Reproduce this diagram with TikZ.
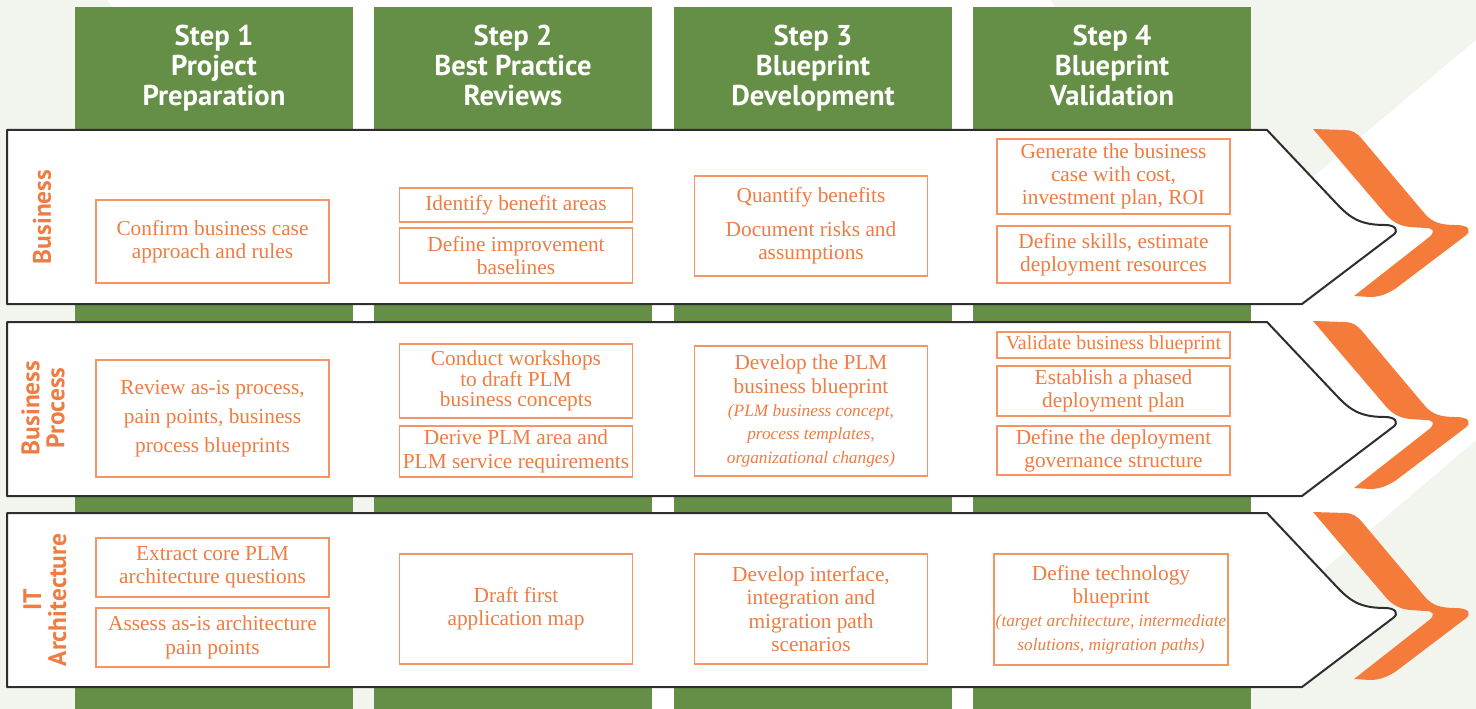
\documentclass[tikz,border=0pt]{standalone}
\usepackage{fontspec}
\setmainfont{Liberation Serif}
\newfontfamily\headfont{PT Sans}

\definecolor{StepGreen}{HTML}{658E46}
\definecolor{Ribbon}{HTML}{F47B3A}
\definecolor{TaskText}{HTML}{EF7C42}
\definecolor{TaskLine}{HTML}{F49563}
\definecolor{Frame}{HTML}{2E2E2E}
\definecolor{Shade}{HTML}{F1F5EE}

\begin{document}
\begin{tikzpicture}[x={(0.75pt,0)}, y={(0,-0.75pt)},
  stepcol/.style={fill=StepGreen},
  steptitle/.style={anchor=north, inner sep=0pt, text=white, align=center, font=\headfont\bfseries\fontsize{21.5}{22.25}\selectfont},
  rowlabel/.style={text=TaskText, align=center, rotate=90, font=\headfont\bfseries\fontsize{19}{18.75}\selectfont},
  taskbox/.style={draw=TaskLine, line width=0.8pt, text=TaskText, align=center, inner sep=0pt,
    minimum width=174.75pt, font=\fontsize{16}{17.5}\selectfont},
  smallnote/.style={font=\fontsize{13}{17.5}\selectfont\itshape}]

 \useasboundingbox (0,0) rectangle (1476,709);

 %%%%%%%%%% Background shading %%%%%%%%%%
 \fill [Shade] (0,0) rectangle (1476,709) ;
 \fill [white] (107,0) -- (1050,0) -- (1236,242) -- (1476,40) -- (1476,440)
   -- (1160,709) -- (652,709) -- cycle ;

 %%%%%%%%%% Step columns %%%%%%%%%%
 \fill [stepcol] (75,7) rectangle (353,709) ;
 \fill [stepcol] (374,7) rectangle (652,709) ;
 \fill [stepcol] (674,7) rectangle (952,709) ;
 \fill [stepcol] (973,7) rectangle (1251,709) ;

 \node [steptitle] (s1) at (214,25) {Step 1\\Project\\Preparation};
 \node [steptitle] (s2) at (513,25) {Step 2\\Best Practice\\Reviews};
 \node [steptitle] (s3) at (813,25) {Step 3\\Blueprint\\Development};
 \node [steptitle] (s4) at (1112,25) {Step 4\\Blueprint\\Validation};

 %%%%%%%%%% Row panels %%%%%%%%%%
 \filldraw [fill=white, draw=Frame, line width=1.5pt, line join=round]
   (7,130) -- (1267,130) -- (1336,203) .. controls (1350,218) and (1360,225) .. (1385,225)
   .. controls (1396,225) and (1399,231) .. (1393,235) -- (1302,304) -- (7,304) -- cycle ;
 \filldraw [fill=white, draw=Frame, line width=1.5pt, line join=round]
   (7,322) -- (1267,322) -- (1336,395) .. controls (1350,410) and (1360,417) .. (1385,417)
   .. controls (1396,417) and (1399,423) .. (1393,427) -- (1302,496) -- (7,496) -- cycle ;
 \filldraw [fill=white, draw=Frame, line width=1.5pt, line join=round]
   (7,513) -- (1267,513) -- (1336,586) .. controls (1350,601) and (1360,608) .. (1385,608)
   .. controls (1396,608) and (1399,614) .. (1393,618) -- (1302,687) -- (7,687) -- cycle ;

 %%%%%%%%%% Orange arrows %%%%%%%%%%
 \fill [Ribbon] (1313,129) -- (1345,130) .. controls (1352,130) and (1357,133) .. (1362,139)
   -- (1425,214) .. controls (1432,222) and (1440,225) .. (1455,225)
   .. controls (1470,225) and (1472,231) .. (1465,236) -- (1395,289)
   .. controls (1385,295) and (1378,297) .. (1370,297) -- (1354,296) -- (1428,238)
   .. controls (1436,232) and (1434,228) .. (1425,228) -- (1410,227)
   .. controls (1398,226) and (1390,220) .. (1383,211) -- cycle ;
 \fill [Ribbon] (1313,321) -- (1345,322) .. controls (1352,322) and (1357,325) .. (1362,331)
   -- (1425,406) .. controls (1432,414) and (1440,417) .. (1455,417)
   .. controls (1470,417) and (1472,423) .. (1465,428) -- (1395,481)
   .. controls (1385,487) and (1378,489) .. (1370,489) -- (1354,488) -- (1428,430)
   .. controls (1436,424) and (1434,420) .. (1425,420) -- (1410,419)
   .. controls (1398,418) and (1390,412) .. (1383,403) -- cycle ;
 \fill [Ribbon] (1313,512) -- (1345,513) .. controls (1352,513) and (1357,516) .. (1362,522)
   -- (1425,597) .. controls (1432,605) and (1440,608) .. (1455,608)
   .. controls (1470,608) and (1472,614) .. (1465,619) -- (1395,672)
   .. controls (1385,678) and (1378,680) .. (1370,680) -- (1354,679) -- (1428,621)
   .. controls (1436,615) and (1434,611) .. (1425,611) -- (1410,610)
   .. controls (1398,609) and (1390,603) .. (1383,594) -- cycle ;

 %%%%%%%%%% Row labels %%%%%%%%%%
 \node [rowlabel] (business) at (42,217) {Business};
 \node [rowlabel] (process) at (43,408) {Business\\Process};
 \node [rowlabel] (itarch) at (45,600) {IT\\Architecture};

 %%%%%%%%%% Business %%%%%%%%%%
 \node [taskbox, minimum height=62.25pt] (b1) at (212.5,241.5) {Confirm business case\\approach and rules};
 \node [taskbox, minimum height=25.5pt] (b2a) at (516,205) {Identify benefit areas};
 \node [taskbox, minimum height=41.25pt] (b2b) at (516,255.5) {Define improvement\\baselines};
 \node [taskbox, minimum height=75pt] (b3) at (811,226) {Quantify benefits\\[8pt]Document risks and\\assumptions};
 \node [taskbox, minimum height=56.25pt] (b4a) at (1113.5,176.5) {Generate the business\\case with cost,\\investment plan, ROI};
 \node [taskbox, minimum height=42.75pt] (b4b) at (1113.5,254.5) {Define skills, estimate\\deployment resources};

 %%%%%%%%%% Business process %%%%%%%%%%
 \node [taskbox, minimum height=87.75pt, font=\fontsize{16}{21.75}\selectfont] (p1) at (212.5,418.5) {Review as-is process,\\pain points, business\\process blueprints};
 \node [taskbox, minimum height=55.5pt, font=\fontsize{16}{15.5}\selectfont] (p2a) at (516,381) {Conduct workshops\\to draft PLM\\business concepts};
 \node [taskbox, minimum height=38.25pt] (p2b) at (516,451.5) {Derive PLM area and\\PLM service requirements};
 \node [taskbox, minimum height=97.5pt] (p3) at (811,411) {Develop the PLM\\business blueprint\\{\itshape\fontsize{13}{17.5}\selectfont (PLM business concept,}\\{\itshape\fontsize{13}{17.5}\selectfont process templates,}\\{\itshape\fontsize{13}{17.5}\selectfont organizational changes)}};
 \node [taskbox, minimum height=19.5pt, font=\fontsize{15}{16}\selectfont] (p4a) at (1113.5,345) {Validate business blueprint};
 \node [taskbox, minimum height=37.5pt] (p4b) at (1113.5,391) {Establish a phased\\deployment plan};
 \node [taskbox, minimum height=36.75pt] (p4c) at (1113.5,450.5) {Define the deployment\\governance structure};

 %%%%%%%%%% IT architecture %%%%%%%%%%
 \node [taskbox, minimum height=44.25pt] (a1a) at (212.5,567.5) {Extract core PLM\\architecture questions};
 \node [taskbox, minimum height=44.25pt] (a1b) at (212.5,637.5) {Assess as-is architecture\\pain points};
 \node [taskbox, minimum height=82.5pt] (a2) at (516,609) {Draft first\\application map};
 \node [taskbox, minimum height=82.5pt] (a3) at (811,609) {Develop interface,\\integration and\\migration path\\scenarios};
 \node [taskbox, minimum height=83.25pt, minimum width=175.5pt] (a4) at (1111,609.5) {Define technology\\blueprint\\{\itshape\fontsize{13}{17.5}\selectfont (target architecture, intermediate}\\{\itshape\fontsize{13}{17.5}\selectfont solutions, migration paths)}};

\end{tikzpicture}
\end{document}
